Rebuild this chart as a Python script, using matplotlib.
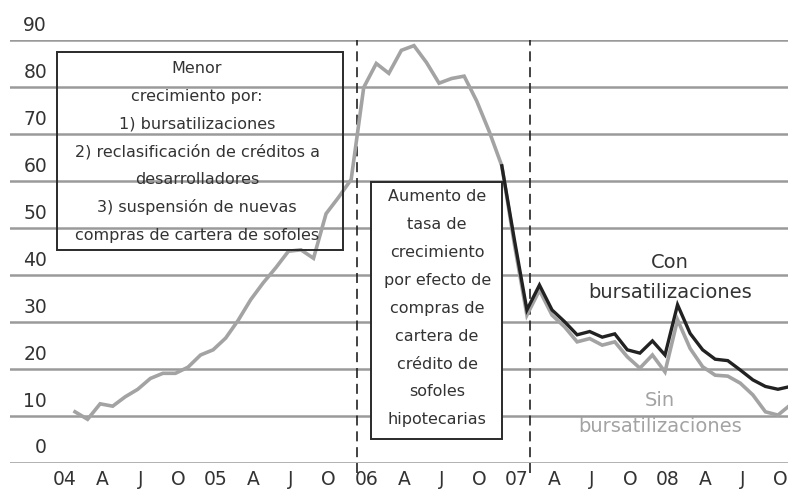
import matplotlib
matplotlib.use("Agg")
import matplotlib.pyplot as plt
from matplotlib.patches import Rectangle
import numpy as np

# Crecimiento anual (%) - serie mensual, feb-2004 a nov-2008
sin_burs = [10.8, 9.2, 12.5, 12.0, 14.0, 15.6, 17.9, 19.0, 19.0, 20.3,
            22.9, 24.0, 26.5, 30.3, 34.7, 38.3, 41.5, 45.0, 45.3, 43.5,
            53.0, 56.5, 60.3, 79.9, 85.0, 82.9, 87.8, 88.8, 85.2, 80.8,
            81.8, 82.3, 77.0, 70.5, 63.2, 46.5, 31.4, 36.7, 31.4, 28.9,
            25.7, 26.4, 25.0, 25.7, 22.5, 20.1, 22.9, 19.3, 30.4, 24.3,
            20.4, 18.6, 18.4, 16.9, 14.4, 10.8, 10.1, 12.3]
con_burs = [63.2, 47.5, 32.5, 37.8, 32.5, 30.0, 27.2, 27.9, 26.7, 27.4,
            24.0, 23.3, 25.9, 22.9, 33.6, 27.5, 24.0, 22.0, 21.7, 19.7,
            17.6, 16.2, 15.6, 16.2]
con_start = 34

x_labels = ["04", "A", "J", "O", "05", "A", "J", "O", "06", "A", "J", "O",
            "07", "A", "J", "O", "08", "A", "J", "O"]
y_ticks = [0, 10, 20, 30, 40, 50, 60, 70, 80, 90]

box1_lines = ["Menor", "crecimiento por:", "1) bursatilizaciones",
              "2) reclasificación de créditos a", "desarrolladores",
              "3) suspensión de nuevas", "compras de cartera de sofoles"]
box2_lines = ["Aumento de", "tasa de", "crecimiento", "por efecto de",
              "compras de", "cartera de", "crédito de", "sofoles",
              "hipotecarias"]

GRID = "#9a9a9a"
GRAY = "#a3a3a3"
DARK = "#222222"
TXT = "#333333"

plt.rcParams["font.family"] = ["DejaVu Sans"]

fig = plt.figure(figsize=(7.88, 4.93), dpi=100)
ax = fig.add_axes([10 / 788, 30.5 / 493, 778 / 788, 422.5 / 493])
ax.set_xlim(-5.18, 56.8)
ax.set_ylim(0, 90)
ax.axis("off")

# lineas horizontales
for v in y_ticks:
    ax.axhline(v, color=GRID, lw=1.8, zorder=1)
    ax.text(-2.23, v + 3.1, str(v), ha="right", va="center",
            fontsize=13.5, color=TXT)

# etiquetas eje x
for k, lab in enumerate(x_labels):
    ax.text(3 * k - 0.8, -3.6, lab, ha="center", va="center",
            fontsize=13.5, color=TXT, clip_on=False)

# lineas verticales punteadas
for xv in (22.47, 36.25):
    ax.plot([xv, xv], [-2.2, 90], color=DARK, lw=1.2,
            linestyle=(0, (6, 3.5)), clip_on=False, zorder=2)

# series
xs = np.arange(len(sin_burs))
ax.plot(xs, sin_burs, color=GRAY, lw=2.6, zorder=3, solid_joinstyle="miter")
xc = np.arange(con_start, con_start + len(con_burs))
ax.plot(xc, con_burs, color=DARK, lw=2.4, zorder=4, solid_joinstyle="miter")

# cuadros de texto
ax.add_patch(Rectangle((-1.43, 45.27), 21.35 + 1.43, 87.45 - 45.27,
                       fill=False, ec="#2a2a2a", lw=1.4, zorder=5))
for k, line in enumerate(box1_lines):
    ax.text(9.72, 84.0 - 5.93 * k, line, ha="center", va="center",
            fontsize=11.5, color=TXT, zorder=6)

ax.add_patch(Rectangle((23.59, 5.0), 34.02 - 23.59, 59.76 - 5.0,
                       facecolor="white", ec="#2a2a2a", lw=1.4, zorder=5))
for k, line in enumerate(box2_lines):
    ax.text(28.85, 56.6 - 5.94 * k, line, ha="center", va="center",
            fontsize=11.5, color=TXT, zorder=6)

ax.text(47.4, 42.5, "Con", ha="center", va="center", fontsize=14, color=TXT)
ax.text(47.4, 36.3, "bursatilizaciones", ha="center", va="center",
        fontsize=14, color=TXT)
ax.text(46.6, 13.3, "Sin", ha="center", va="center", fontsize=14, color=GRAY)
ax.text(46.6, 7.6, "bursatilizaciones", ha="center", va="center",
        fontsize=14, color=GRAY)

fig.savefig("out.png", dpi=100)
